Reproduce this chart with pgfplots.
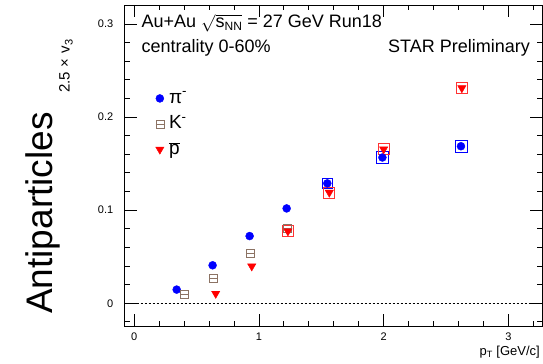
\documentclass[border=0pt]{standalone}
\usepackage{pgfplots}
\pgfplotsset{compat=1.18}
\usepackage{fontspec}
\setmainfont{Liberation Sans}
\definecolor{kcol}{RGB}{140,115,100}
\definecolor{pblue}{RGB}{0,0,255}
\definecolor{pred}{RGB}{255,0,0}
\pgfdeclareplotmark{sqh}{%
  \pgfpathrectangle{\pgfpoint{-\pgfplotmarksize}{-\pgfplotmarksize}}{\pgfpoint{2\pgfplotmarksize}{2\pgfplotmarksize}}%
  \pgfpathmoveto{\pgfpoint{-\pgfplotmarksize}{0pt}}%
  \pgfpathlineto{\pgfpoint{\pgfplotmarksize}{0pt}}%
  \pgfusepathqstroke}
\begin{document}
\begin{tikzpicture}
\useasboundingbox (0,0) rectangle (543bp,364bp);
\begin{axis}[
  at={(124.7bp,38bp)}, anchor=south west,
  scale only axis, width=417.3bp, height=321bp,
  xmin=-0.077, xmax=3.27, ymin=-0.0244, ymax=0.3204,
  xtick={0,1,2,3}, ytick={0,0.1,0.2,0.3},
  minor xtick={0.2,0.4,0.6,0.8,1.2,1.4,1.6,1.8,2.2,2.4,2.6,2.8,3.2},
  minor ytick={-0.02,0.02,0.04,0.06,0.08,0.12,0.14,0.16,0.18,0.22,0.24,0.26,0.28,0.32},
  tick align=inside,
  major tick length=12bp, minor tick length=5.5bp,
  every tick/.style={black, line width=0.9bp},
  axis line style={line width=0.8bp},
  tick label style={font=\fontsize{11bp}{13bp}\selectfont},
  /pgf/number format/assume math mode=true,
  yticklabel style={xshift=-8bp},
  xticklabel style={yshift=-3bp},
  legend style={draw=none, fill=none, anchor=north west,
    at={(axis cs:0.17,0.231)}, inner sep=0pt,
    font=\fontsize{19bp}{22bp}\selectfont, row sep=5.5bp, column sep=4bp,
    nodes={inner sep=1bp, text height=14bp, text depth=4bp}},
  legend cell align=left,
  legend image code/.code={\draw[mark repeat=2,mark phase=2,#1] plot coordinates {(-3bp,0bp) (0bp,0bp) (3bp,0bp)};},
]
% zero line
\addplot[black, line width=0.5bp, dash pattern=on 2bp off 2bp, forget plot] coordinates {(-0.077,0) (3.27,0)};
% systematic boxes
\addplot[only marks, mark=square, mark size=6bp, pblue, mark options={line width=0.7bp}, forget plot]
  coordinates {(1.99,0.1566) (2.62,0.1687)};
\addplot[only marks, mark=square, mark size=5bp, pblue, mark options={line width=0.7bp}, forget plot]
  coordinates {(1.548,0.1288)};
\addplot[only marks, mark=square, mark size=5.5bp, pred!80, mark options={line width=0.7bp}, forget plot]
  coordinates {(1.232,0.0774) (1.564,0.119) (2.0,0.1655) (2.627,0.2312)};
% pi-
\addplot[only marks, mark=*, mark size=4bp, pblue, mark options={fill=pblue, draw=pblue}]
  coordinates {(0.34,0.0147) (0.628,0.0408) (0.925,0.0722) (1.222,0.1019) (1.548,0.1288) (1.99,0.1566) (2.62,0.1687)};
\addlegendentry{π\textsuperscript{-}}
% K-
\addplot[only marks, mark=sqh, mark size=4bp, kcol, mark options={line width=0.7bp}]
  coordinates {(0.402,0.0092) (0.638,0.0267) (0.928,0.0532) (1.225,0.081)};
\addlegendentry{K\textsuperscript{-}}
% pbar
\addplot[only marks, mark=triangle*, mark size=4.8bp, pred, mark options={fill=pred, draw=pred, rotate=180}]
  coordinates {(0.653,0.0104) (0.942,0.0398) (1.232,0.0774) (1.564,0.119) (2.0,0.1655) (2.627,0.2312)};
\addlegendentry{\ensuremath{\overline{\mbox{p}}}}
\end{axis}
% annotations
\node[anchor=base west, inner sep=0pt, font=\fontsize{18bp}{20bp}\selectfont] at (141.5bp,336bp)
  {Au+Au \ensuremath{\sqrt{\vphantom{x}\smash{\mbox{s}_{\mbox{\fontsize{12bp}{12bp}\selectfont NN}}}}} = 27 GeV Run18};
\node[anchor=base west, inner sep=0pt, font=\fontsize{18bp}{20bp}\selectfont] at (141.5bp,311.5bp)
  {centrality 0-60\%};
\node[anchor=base east, inner sep=0pt, font=\fontsize{18bp}{20bp}\selectfont] at (530bp,311.5bp)
  {STAR Preliminary};
% axis labels
\node[anchor=base east, inner sep=0pt, font=\fontsize{13bp}{15bp}\selectfont] at (540bp,8.3bp)
  {p\textsubscript{T} [GeV/c]};
\node[rotate=90, anchor=base, inner sep=0pt, font=\fontsize{37bp}{40bp}\selectfont] at (52bp,151bp)
  {Antiparticles};
\node[rotate=90, anchor=base, inner sep=0pt, font=\fontsize{15bp}{17bp}\selectfont] at (69.5bp,298bp)
  {2.5\hspace{4bp}×\hspace{6bp}v{\fontsize{11bp}{11bp}\selectfont\raisebox{-3bp}{3}}};
\end{tikzpicture}
\end{document}
